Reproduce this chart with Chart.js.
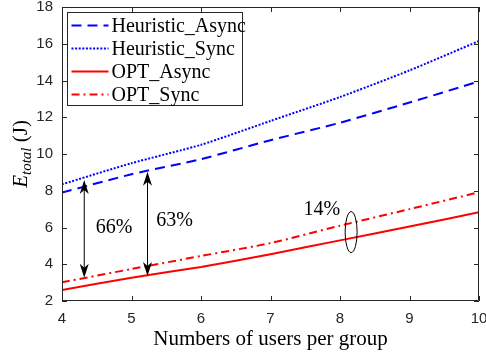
<!DOCTYPE html>
<html lang="en">
<head>
<meta charset="UTF-8">
<title>E_total vs users per group</title>
<script src="https://cdn.jsdelivr.net/npm/chart.js"></script>
<style>
  html, body { margin: 0; padding: 0; background: #fff; }
</style>
</head>
<body>
<canvas id="chart" width="486" height="354"></canvas>
<script>
// data
const users = [4, 5, 6, 7, 8, 9, 10];
const heuristicAsync = [7.9, 8.9, 9.72, 10.75, 11.7, 12.8, 13.95];
const heuristicSync = [8.35, 9.5, 10.5, 11.8, 13.1, 14.55, 16.15];
const optAsync = [2.6, 3.27, 3.85, 4.55, 5.3, 6.05, 6.83];
const optSync = [3.02, 3.74, 4.45, 5.15, 6.1, 7.0, 7.92];
const xTicks = [4, 5, 6, 7, 8, 9, 10];
const yTicks = [2, 4, 6, 8, 10, 12, 14, 16, 18];

// annotations (data coordinates)
const gapArrows = [
  { x: 4.32, y1: 3.27, y2: 8.58, label: '66%', lx: 4.75, ly: 5.97 },
  { x: 5.23, y1: 3.36, y2: 9.04, label: '63%', lx: 5.62, ly: 6.38 }
];
const ratioMark = { x: 8.16, y: 5.75, label: '14%', lx: 7.74, ly: 6.95 };

const serif = '"Liberation Serif", "Times New Roman", serif';
const sans = '"Liberation Sans", Arial, sans-serif';
const axisColor = '#262626';

function pts(vals) {
  return users.map((u, i) => ({ x: u, y: vals[i] }));
}

function arrowHead(ctx, x, y, dir) {
  // dir -1: pointing up, +1: pointing down (tip at x,y)
  const L = 14, W = 4.5, notch = 4;
  ctx.beginPath();
  ctx.moveTo(x, y);
  ctx.lineTo(x - W, y - dir * L);
  ctx.lineTo(x, y - dir * (L - notch));
  ctx.lineTo(x + W, y - dir * L);
  ctx.closePath();
  ctx.fill();
}

const extras = {
  id: 'extras',
  afterDatasetsDraw(chart) {
    const ctx = chart.ctx;
    const a = chart.chartArea;
    const xs = chart.scales.x, ys = chart.scales.y;
    ctx.save();

    // box + inward ticks
    ctx.strokeStyle = axisColor;
    ctx.lineWidth = 1;
    ctx.beginPath();
    ctx.rect(a.left + 0.5, a.top + 0.5, a.right - a.left - 1, a.bottom - a.top - 1);
    ctx.stroke();
    ctx.beginPath();
    xTicks.forEach(v => {
      const px = Math.round(xs.getPixelForValue(v)) + 0.5;
      ctx.moveTo(px, a.bottom); ctx.lineTo(px, a.bottom - 5);
      ctx.moveTo(px, a.top); ctx.lineTo(px, a.top + 5);
    });
    yTicks.forEach(v => {
      const py = Math.round(ys.getPixelForValue(v)) + 0.5;
      ctx.moveTo(a.left, py); ctx.lineTo(a.left + 5, py);
      ctx.moveTo(a.right, py); ctx.lineTo(a.right - 5, py);
    });
    ctx.stroke();

    // gap arrows
    ctx.strokeStyle = '#000';
    ctx.fillStyle = '#000';
    ctx.font = '20px ' + serif;
    ctx.textAlign = 'center';
    ctx.textBaseline = 'middle';
    gapArrows.forEach(g => {
      const px = xs.getPixelForValue(g.x);
      const pTop = ys.getPixelForValue(g.y2);
      const pBot = ys.getPixelForValue(g.y1);
      ctx.beginPath();
      ctx.moveTo(px, pTop + 8);
      ctx.lineTo(px, pBot - 8);
      ctx.stroke();
      arrowHead(ctx, px, pTop, -1);
      arrowHead(ctx, px, pBot, 1);
      ctx.fillText(g.label, xs.getPixelForValue(g.lx), ys.getPixelForValue(g.ly));
    });

    // ellipse + label
    ctx.beginPath();
    ctx.ellipse(xs.getPixelForValue(ratioMark.x), ys.getPixelForValue(ratioMark.y), 6, 20.5, 0, 0, Math.PI * 2);
    ctx.stroke();
    ctx.fillText(ratioMark.label, xs.getPixelForValue(ratioMark.lx), ys.getPixelForValue(ratioMark.ly));

    // legend
    const lx = a.left + 5.5, ly = a.top + 5.5, lw = 175, lh = 93;
    ctx.fillStyle = '#fff';
    ctx.fillRect(lx, ly, lw, lh);
    ctx.strokeStyle = axisColor;
    ctx.strokeRect(lx, ly, lw, lh);
    ctx.font = '20px ' + serif;
    ctx.textAlign = 'left';
    ctx.textBaseline = 'middle';
    chart.data.datasets.forEach((ds, i) => {
      const ry = ly + 13 + i * 23;
      ctx.save();
      ctx.strokeStyle = ds.borderColor;
      ctx.lineWidth = ds.borderWidth;
      ctx.setLineDash(ds.borderDash || []);
      ctx.beginPath();
      ctx.moveTo(lx + 4, ry);
      ctx.lineTo(lx + 41, ry);
      ctx.stroke();
      ctx.restore();
      ctx.fillStyle = '#000';
      ctx.fillText(ds.label, lx + 44, ry + 1);
    });

    // y axis title: E_total (J)
    ctx.translate(21, (a.top + a.bottom) / 2);
    ctx.rotate(-Math.PI / 2);
    ctx.fillStyle = '#000';
    ctx.textBaseline = 'alphabetic';
    ctx.textAlign = 'left';
    const big = '21px ' + serif, small = 'italic 15px ' + serif;
    ctx.font = 'italic ' + big;
    const wE = ctx.measureText('E').width;
    ctx.font = small;
    const wSub = ctx.measureText('total').width;
    ctx.font = big;
    const wJ = ctx.measureText(' (J)').width;
    let cx = -(wE + wSub + wJ) / 2;
    ctx.font = 'italic ' + big;
    ctx.fillText('E', cx, 6);
    cx += wE;
    ctx.font = small;
    ctx.fillText('total', cx, 10);
    cx += wSub;
    ctx.font = big;
    ctx.fillText(' (J)', cx, 6);

    ctx.restore();
  }
};

new Chart(document.getElementById('chart'), {
  type: 'line',
  data: {
    datasets: [
      { label: 'Heuristic_Async', data: pts(heuristicAsync), borderColor: '#0000ff', borderWidth: 2, borderDash: [10, 6] },
      { label: 'Heuristic_Sync', data: pts(heuristicSync), borderColor: '#0000ff', borderWidth: 2, borderDash: [2, 1.6] },
      { label: 'OPT_Async', data: pts(optAsync), borderColor: '#ff0000', borderWidth: 2 },
      { label: 'OPT_Sync', data: pts(optSync), borderColor: '#ff0000', borderWidth: 2, borderDash: [8, 4, 2, 4] }
    ]
  },
  options: {
    responsive: false,
    animation: false,
    devicePixelRatio: 1,
    elements: { point: { radius: 0 }, line: { tension: 0.2, fill: false } },
    layout: { padding: { top: 7, right: 7, left: 0, bottom: 0 } },
    plugins: { legend: { display: false }, tooltip: { enabled: false } },
    scales: {
      x: {
        type: 'linear', min: 4, max: 10,
        grid: { display: false, drawTicks: false },
        border: { display: false },
        afterBuildTicks: s => { s.ticks = xTicks.map(v => ({ value: v })); },
        afterFit: s => { s.height = 53; s.paddingLeft = 0; s.paddingRight = 0; },
        ticks: { color: axisColor, font: { family: sans, size: 15 }, padding: 9, maxRotation: 0 },
        title: { display: true, text: 'Numbers of users per group', color: '#000',
                 font: { family: serif, size: 21 }, padding: { top: 0, bottom: 2 } }
      },
      y: {
        min: 2, max: 18,
        grid: { display: false, drawTicks: false },
        border: { display: false },
        afterBuildTicks: s => { s.ticks = yTicks.map(v => ({ value: v })); },
        afterFit: s => { s.width = 62; s.paddingTop = 0; s.paddingBottom = 0; },
        ticks: { color: axisColor, font: { family: sans, size: 15 }, padding: 9 }
      }
    }
  },
  plugins: [extras]
});
</script>
</body>
</html>
